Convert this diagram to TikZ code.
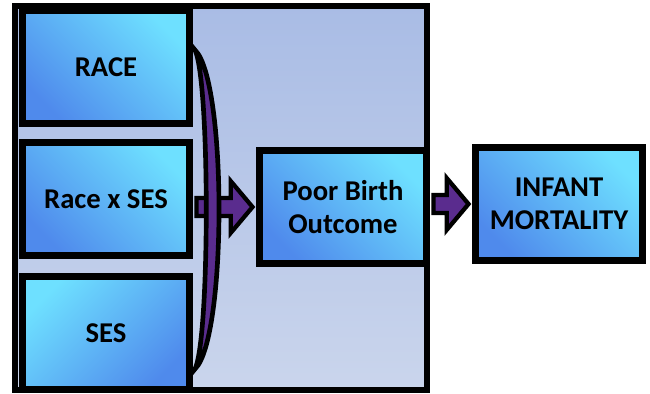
\documentclass[tikz,border=0pt]{standalone}
\usepackage{fontspec}
\setmainfont{Carlito}
\usetikzlibrary{calc}
\definecolor{paneltop}{HTML}{A9BCE5}
\definecolor{panelbot}{HTML}{CAD5EC}
\definecolor{boxlight}{HTML}{6EE0FF}
\definecolor{boxdark}{HTML}{4F8AEC}
\definecolor{arrowpurple}{HTML}{5A2C8E}
% fat block arrow from the right side of #1 to the left side of #2
\newcommand{\fatarrow}[2]{%
  \draw[fat] let \p1=(#1.east), \p2=(#2.west) in
    (\x1+2.6pt,\y2+6.75pt) -- (\x2-19pt,\y2+6.75pt) -- (\x2-19pt,\y2+19.5pt)
    -- (\x2-2.6pt,\y2) -- (\x2-19pt,\y2-19.5pt) -- (\x2-19pt,\y2-6.75pt)
    -- (\x1+2.6pt,\y2-6.75pt) -- cycle;}

\begin{document}
\begin{tikzpicture}[x=0.75pt,y=-0.75pt,
    box/.style={draw, line width=5.25pt, minimum width=125.25pt, minimum height=84.75pt,
      inner sep=0pt, align=center, font=\fontsize{21.5}{25}\selectfont\bfseries,
      top color=boxlight, bottom color=boxdark, shading angle=-45},
    fat/.style={fill=arrowpurple, draw=black, line width=3.2pt, line join=miter},
    bracket/.style={fill=arrowpurple, draw=black, line width=3.5pt}]
  \useasboundingbox (0,0) rectangle (650,393);
  \draw[line width=4.5pt, top color=paneltop, bottom color=panelbot] (15,6) rectangle (427,390);

  \node[box] (race) at (106,67) {RACE};
  \node[box] (racexses) at (106,199) {Race x SES};
  \node[box, shading angle=45] (ses) at (106,333) {SES};
  \node[box] (outcome) at (343,207) {Poor Birth\\Outcome};
  \node[box] (mortality) at (559,204) {INFANT\\MORTALITY};

  \fatarrow{racexses}{outcome}
  \fatarrow{outcome}{mortality}

  \coordinate (ctop) at ($(race.east)+(2,-17)$);
  \coordinate (cbot) at ($(ses.east)+(2,36)$);
  \draw[bracket] (ctop) .. controls +(32,31) and +(32,-31) .. (cbot)
    .. controls +(15,-31) and +(15,31) .. (ctop) -- cycle;
\end{tikzpicture}
\end{document}
